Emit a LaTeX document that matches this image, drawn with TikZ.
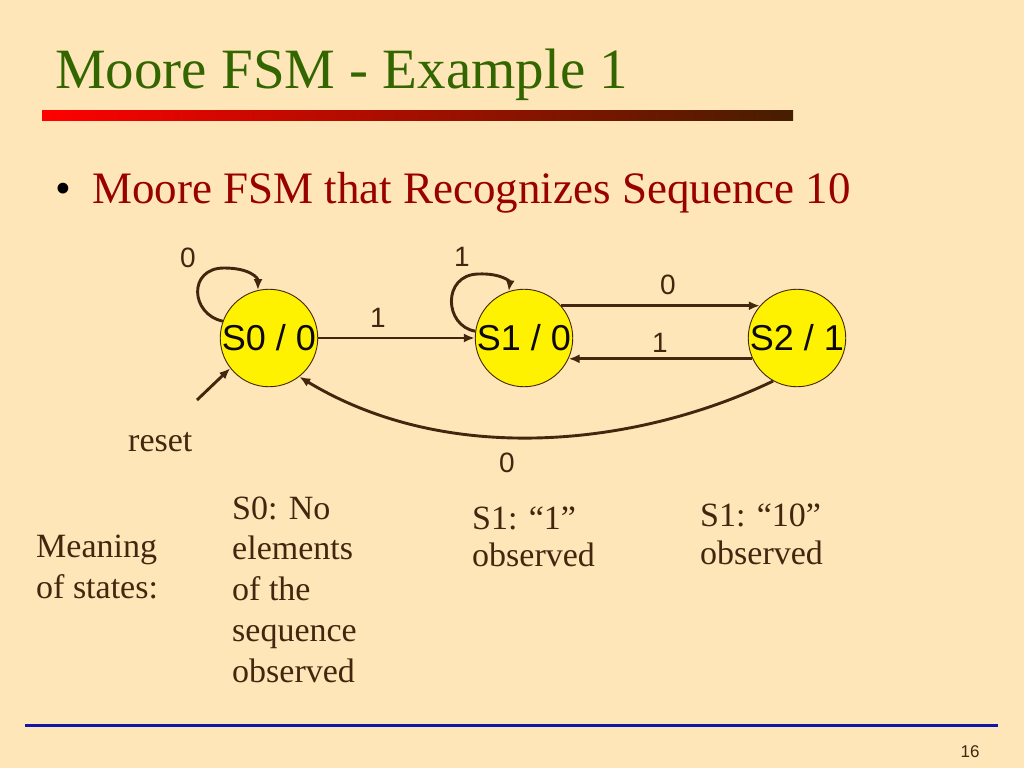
\documentclass[tikz,border=0pt]{standalone}
\usepackage{fontspec}
\setmainfont{Liberation Serif}
\setsansfont{Liberation Sans}
\usetikzlibrary{arrows.meta}
\definecolor{bg}{RGB}{255,230,184}
\definecolor{ink}{RGB}{66,38,14}
\definecolor{titlegreen}{RGB}{51,102,0}
\definecolor{bulletred}{RGB}{153,0,0}
\definecolor{barend}{RGB}{70,30,0}
\definecolor{rule}{RGB}{20,20,170}
\tikzset{
  state/.style={circle, minimum size=94pt, inner sep=0pt, fill=yellow, draw=ink, line width=0.9pt,
    text=black!80!ink, font=\sffamily\fontsize{36}{40}\selectfont},
  trans/.style={draw=ink, line width=2.9pt, -{Latex[length=11pt,width=9pt]}},
  lbl/.style={inner sep=0pt, text=ink, font=\sffamily\fontsize{28}{32}\selectfont},
  body/.style={anchor=base west, inner sep=0pt, text=ink, font=\fontsize{34}{40}\selectfont},
}
\begin{document}
\begin{tikzpicture}[x=1pt,y=-1pt]
\useasboundingbox (0,0) rectangle (1024,768);
\fill[bg] (0,0) rectangle (1024,768);
% title
\node[anchor=base west, inner sep=0pt, text=titlegreen, font=\fontsize{57}{62}\selectfont] (title) at (55,88) {Moore FSM - Example 1};
\shade[left color=red, right color=barend] (42,110) rectangle (793,120);
% bullet
\node[anchor=base west, inner sep=0pt, font=\fontsize{45}{50}\selectfont] (bul) at (55,203) {•};
\node[anchor=base west, inner sep=0pt, text=bulletred, font=\fontsize{45}{50}\selectfont] (sub) at (92,203) {Moore FSM that Recognizes Sequence 10};
% states
\node[state] (s0) at (269,338) {S0 / 0};
\node[state] (s1) at (524,338) {S1 / 0};
\node[state] (s2) at (797,338) {S2 / 1};
% transitions
\draw[trans] (s0.east) -- (s1.west);
\draw[trans] (s1.41) -- (s2.139);
\draw[trans] (s2.205) -- (s1.-25);
\draw[trans] (s0.160) .. controls (190,314) and (188,268) .. (224,268) .. controls (250,268) and (258,278) .. (s0.103);
\draw[trans] (s1.172) .. controls (444,326) and (442,275) .. (478,274) .. controls (502,273) and (510,282) .. (s1.108);
\draw[trans] (s2.241) .. controls (640,445) and (450,468) .. (s0.308);
\coordinate (rst) at (197,400);
\draw[trans] (rst) -- (s0.218);
% labels
\node[lbl] (l00) at (188,258) {0};
\node[lbl] (l11) at (462,257) {1};
\node[lbl] (l01) at (378,318) {1};
\node[lbl] (l12) at (668,285) {0};
\node[lbl] (l21) at (660,343) {1};
\node[lbl] (l20) at (507,463) {0};
\node[body] (reset) at (128,451) {reset};
% meanings
\node[body] (m1) at (36,557) {Meaning};
\node[body] (m2) at (36,598) {of states:};
\node[body] (a1) at (232,519) {S0: No};
\node[body] (a2) at (232,559) {elements};
\node[body] (a3) at (232,600) {of the};
\node[body] (a4) at (232,641) {sequence};
\node[body] (a5) at (232,682) {observed};
\node[body] (b1) at (472,529) {S1: “1”};
\node[body] (b2) at (472,566) {observed};
\node[body] (c1) at (700,526) {S1: “10”};
\node[body] (c2) at (700,564) {observed};
% footer
\draw[draw=rule, line width=3pt] (25,725) -- (998,725);
\node[inner sep=0pt, text=ink, font=\sffamily\fontsize{17}{20}\selectfont] (pg) at (970,752) {16};
\end{tikzpicture}
\end{document}
